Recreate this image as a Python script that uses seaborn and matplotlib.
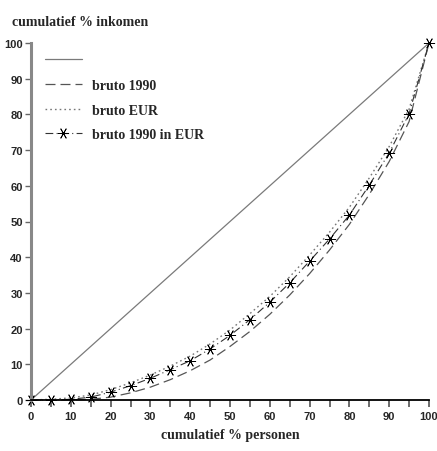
import matplotlib
matplotlib.use("Agg")
import matplotlib.pyplot as plt
import seaborn as sns
import pandas as pd

# data
personen = [0, 5, 10, 15, 20, 25, 30, 35, 40, 45, 50, 55, 60, 65, 70, 75, 80, 85, 90, 95, 100]
gelijk = [0, 5, 10, 15, 20, 25, 30, 35, 40, 45, 50, 55, 60, 65, 70, 75, 80, 85, 90, 95, 100]
bruto_1990 = [0, 0, 0, 0.2, 0.8, 2.0, 3.6, 5.7, 8.2, 11.2, 15.0, 19.2, 24.0, 29.4, 35.4, 42.0, 49.2, 57.6, 66.8, 78.0, 100]
bruto_eur = [0, 0.2, 0.6, 1.4, 2.9, 4.8, 7.0, 9.5, 12.3, 15.7, 19.6, 24.2, 29.0, 34.5, 40.6, 47.0, 54.0, 62.2, 71.0, 81.5, 100]
bruto_1990_eur = [0, 0, 0.2, 0.8, 2.2, 4.0, 6.1, 8.5, 11.0, 14.3, 18.1, 22.5, 27.4, 32.8, 38.9, 45.1, 51.8, 60.2, 69.2, 80.2, 100]
labels = [" ", "bruto 1990", "bruto EUR", "bruto 1990 in EUR"]
y_label = "cumulatief % inkomen"
x_label = "cumulatief % personen"

sns.set_style("white")
serif = ["Liberation Serif", "DejaVu Serif"]
narrow = ["Liberation Sans Narrow", "Liberation Sans", "DejaVu Sans"]

fig = plt.figure(figsize=(4.37, 4.52), dpi=100)
ax = fig.add_axes([31 / 437, 51 / 452, 398 / 437, 357 / 452])

df = pd.DataFrame({"p": personen, "g": gelijk, "a": bruto_1990, "b": bruto_eur, "c": bruto_1990_eur})

sns.lineplot(data=df, x="p", y="g", ax=ax, color="#7a7a7a", lw=0.9)
sns.lineplot(data=df, x="p", y="a", ax=ax, color="#555555", lw=0.9)
sns.lineplot(data=df, x="p", y="b", ax=ax, color="#777777", lw=1.0)
sns.lineplot(data=df, x="p", y="c", ax=ax, color="#333333", lw=0.8,
             marker=(6, 2, 90), markersize=8, markeredgewidth=0.6,
             markeredgecolor="black", clip_on=False)

lines = ax.get_lines()
lines[1].set_dashes([8, 4])
lines[2].set_dashes([1.2, 2.2])
lines[3].set_dashes([7, 3, 1, 3])
for ln in lines:
    ln.set_clip_on(False)

ax.set_xlim(0, 100)
ax.set_ylim(0, 100)
ax.set_xticks(range(0, 101, 5))
ax.set_xticklabels([str(v) if v % 10 == 0 else "" for v in range(0, 101, 5)])
ax.set_yticks(range(0, 101, 10))
for sp in ["top", "right"]:
    ax.spines[sp].set_visible(False)
ax.spines["left"].set_color("#888888")
ax.spines["left"].set_linewidth(2.2)
ax.spines["bottom"].set_color("black")
ax.spines["bottom"].set_linewidth(1.3)
ax.tick_params(axis="x", direction="out", length=5, width=1.1, color="#444444", pad=3, bottom=True)
ax.tick_params(axis="y", direction="out", length=4, width=1.0, color="#666666", pad=2, left=True)
for t in ax.get_xticklabels() + ax.get_yticklabels():
    t.set_family(narrow)
    t.set_fontweight("bold")
    t.set_fontsize(8)

ax.set_xlabel(x_label, family=serif, fontsize=10, fontweight="bold", labelpad=5)
ax.set_ylabel("")
fig.text(12 / 437, 1 - 22 / 452, y_label, family=serif, fontsize=10, fontweight="bold",
         va="center", ha="left")

leg = ax.legend(handles=list(lines), labels=labels, loc="upper left", frameon=False,
                handlelength=2.7, handletextpad=0.75, labelspacing=0.85,
                bbox_to_anchor=(0.02, 0.985), borderaxespad=0,
                prop={"family": serif, "size": 10, "weight": "bold"})

fig.savefig("out.png", dpi=100)
